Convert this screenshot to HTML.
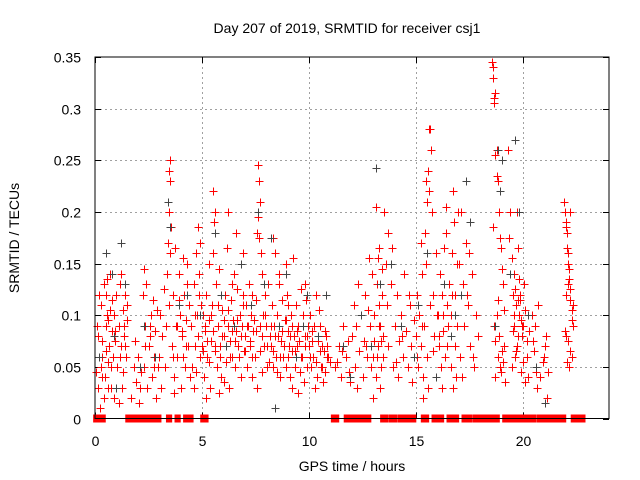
<!DOCTYPE html>
<html><head><meta charset="utf-8">
<style>
html,body{margin:0;padding:0;background:#fff;}
svg{display:block;font-family:"Liberation Sans",sans-serif;}
</style></head>
<body>
<svg id="chart" width="640" height="480" viewBox="0 0 640 480">
  <text x="347" y="33" font-size="14" text-anchor="middle">Day 207 of 2019, SRMTID for receiver csj1</text>
  <text x="352" y="471" font-size="14" text-anchor="middle">GPS time / hours</text>
  <text transform="translate(19,238) rotate(-90)" font-size="14" text-anchor="middle">SRMTID / TECUs</text>
  <g id="grid"></g>
  <g id="ticks"></g>
  <g id="marks"></g>
  <rect x="95" y="57" width="514" height="361.5" fill="none" stroke="#000" stroke-width="1"/>
</svg>
<script>
const xTicks=[0,5,10,15,20];
const yTicks=[0,0.05,0.1,0.15,0.2,0.25,0.3,0.35];
const yTickLabels=["0","0.05","0.1","0.15","0.2","0.25","0.3","0.35"];
const redT=[0.05,0.1,0.15,0.2,0.25,0.3,0.3,0.35,0.4,0.45,0.5,0.5,0.55,0.6,0.6,0.65,0.7,0.75,0.8,0.8,0.85,0.9,0.9,0.95,0.2,0.4,0.6,0.7,0.5,0.35,
1.0,1.05,1.1,1.15,1.2,1.25,1.3,1.35,1.4,1.45,1.5,1.1,1.2,1.3,1.4,1.5,
1.7,1.8,1.9,2.0,2.1,1.85,2.05,2.15,
2.25,2.3,2.35,2.4,2.45,2.5,2.6,2.65,2.7,2.75,2.8,2.85,2.9,2.95,2.3,2.55,
3.0,3.05,3.1,3.15,3.2,3.25,3.3,3.35,3.4,3.45,3.5,3.45,3.5,3.55,3.5,3.45,
3.6,3.65,3.7,3.75,3.8,3.85,3.9,3.95,4.0,4.05,4.1,4.15,4.2,4.25,4.3,4.35,4.4,4.45,3.7,3.9,4.1,4.3,
4.5,4.55,4.6,4.65,4.7,4.75,4.8,4.85,4.9,4.95,4.6,4.8,4.9,4.7,
5.0,5.05,5.1,5.15,5.2,5.25,5.3,5.35,5.4,5.45,5.5,5.55,5.6,5.65,5.7,5.75,5.8,5.85,5.9,5.95,6.0,6.05,6.1,6.15,6.2,6.25,6.3,6.35,6.4,6.45,6.5,6.55,6.6,6.65,6.7,6.75,6.8,6.85,6.9,6.95,5.5,5.6,5.3,6.2,6.6,6.9,5.8,6.4,6.0,5.2,
7.0,7.05,7.1,7.15,7.2,7.25,7.3,7.35,7.4,7.45,7.5,7.55,7.6,7.65,7.7,7.75,7.8,7.85,7.9,7.95,8.0,8.05,8.1,8.15,7.6,7.65,7.7,7.55,7.8,7.35,
8.2,8.25,8.3,8.35,8.4,8.45,8.5,8.55,8.6,8.65,8.7,8.75,8.8,8.85,8.9,8.95,9.0,9.05,9.1,9.15,9.2,9.25,9.3,9.35,9.4,9.45,9.5,9.55,9.6,9.65,9.7,9.75,9.8,9.85,9.9,9.95,8.3,8.6,8.9,9.2,9.5,9.8,8.5,9.0,
10.0,10.05,10.1,10.15,10.2,10.3,10.35,10.4,10.5,10.55,10.6,10.7,10.75,10.8,10.9,10.95,10.25,10.45,10.65,10.85,
11.2,11.4,11.5,11.6,11.7,11.8,11.9,11.3,11.55,11.85,
12.0,12.1,12.15,12.2,12.3,12.35,12.4,12.5,12.55,12.6,12.7,12.8,12.85,12.9,12.95,12.25,12.65,12.75,
13.0,13.05,13.1,13.15,13.2,13.25,13.3,13.35,13.4,13.45,13.1,13.2,13.3,13.0,13.15,13.4,13.25,13.35,
13.5,13.6,13.65,13.7,13.8,13.85,13.9,14.0,14.1,14.15,14.2,14.3,14.4,14.45,14.5,14.6,14.7,14.75,14.8,14.9,13.7,14.05,14.35,14.65,
15.0,15.05,15.1,15.15,15.2,15.25,15.3,15.35,15.4,15.45,15.5,15.55,15.6,15.65,15.7,15.75,15.8,15.85,15.9,15.95,15.5,15.55,15.6,15.45,15.65,15.3,15.2,15.8,
16.0,16.05,16.1,16.15,16.2,16.25,16.3,16.35,16.4,16.45,16.5,16.55,16.6,16.65,16.7,16.75,16.8,16.85,16.9,16.95,16.2,16.4,16.6,16.8,16.7,16.9,
17.0,17.05,17.1,17.2,17.25,17.3,17.4,17.5,17.6,17.7,17.8,17.9,17.15,17.35,17.45,17.65,
18.55,18.6,18.6,18.65,18.65,18.7,18.7,18.75,18.75,18.8,18.85,18.9,18.95,19.0,19.05,18.6,18.7,18.8,18.9,19.0,19.1,18.65,18.75,18.85,18.95,19.1,19.15,18.7,18.8,19.05,
19.3,19.4,19.45,19.5,19.55,19.6,19.65,19.7,19.75,19.8,19.85,19.9,19.95,20.0,20.05,20.1,20.15,20.2,19.5,19.6,19.7,19.8,19.9,20.0,19.35,19.45,19.55,19.65,19.75,19.85,20.1,20.25,
20.4,20.5,20.55,20.6,20.7,20.8,20.9,21.0,21.05,21.1,20.45,20.65,20.95,21.15,
21.9,21.95,22.0,22.0,22.05,22.05,22.1,22.1,22.15,22.15,22.2,22.2,22.25,22.25,22.3,22.0,22.1,22.2,22.05,22.15,22.25,21.95,22.3,22.1,22.2,22.0,
5.02,5.12,5.22,5.32,5.42,5.52,5.62,5.72,5.82,5.92,6.02,6.12,6.22,6.32,6.42,6.52,6.62,6.72,6.82,6.92,7.02,7.12,7.22,7.32,7.42,7.52,7.72,7.82,7.92,8.02,8.12,8.22,8.32,8.42,8.52,8.62,8.72,8.82,8.92,9.02,9.12,9.22,9.32,9.42,9.52,9.62,9.72,9.82,9.92,10.02,10.12,10.22,10.32,10.42,10.52,10.62,10.72,10.82,
0.15,0.35,0.55,0.75,0.95,1.15,1.35,2.35,2.55,2.75,3.65,3.85,4.05,4.25,4.65,4.85,13.05,13.25,13.45,15.05,15.25,16.05,16.25,16.45,16.65,19.55,19.75,19.95,20.15];
const redV=[0.045,0.09,0.03,0.06,0.01,0.11,0.05,0.075,0.13,0.04,0.065,0.12,0.135,0.03,0.095,0.07,0.14,0.05,0.085,0.115,0.06,0.1,0.02,0.075,0.12,0.02,0.055,0.105,0.09,0.04,
0.12,0.05,0.09,0.13,0.07,0.03,0.105,0.08,0.12,0.06,0.095,0.015,0.14,0.045,0.07,0.11,
0.02,0.05,0.035,0.06,0.03,0.075,0.015,0.045,
0.12,0.05,0.09,0.13,0.03,0.07,0.1,0.04,0.115,0.06,0.085,0.02,0.105,0.05,0.145,0.08,
0.06,0.1,0.03,0.08,0.125,0.05,0.09,0.14,0.17,0.2,0.25,0.24,0.23,0.185,0.16,0.11,
0.07,0.12,0.04,0.165,0.09,0.06,0.14,0.1,0.03,0.08,0.155,0.12,0.05,0.095,0.13,0.07,0.11,0.04,0.025,0.115,0.06,0.15,
0.09,0.05,0.13,0.07,0.16,0.1,0.185,0.14,0.06,0.11,0.03,0.08,0.17,0.045,
0.07,0.1,0.04,0.085,0.12,0.06,0.095,0.03,0.075,0.11,0.22,0.19,0.065,0.13,0.05,0.09,0.145,0.07,0.04,0.105,0.08,0.12,0.055,0.165,0.09,0.03,0.075,0.115,0.06,0.095,0.14,0.05,0.085,0.125,0.07,0.1,0.04,0.09,0.16,0.065,0.16,0.2,0.15,0.2,0.18,0.12,0.025,0.13,0.035,0.02,
0.08,0.11,0.05,0.09,0.13,0.07,0.1,0.04,0.085,0.06,0.115,0.18,0.245,0.23,0.21,0.16,0.14,0.1,0.07,0.12,0.09,0.05,0.13,0.08,0.195,0.175,0.09,0.03,0.045,0.12,
0.07,0.11,0.05,0.09,0.16,0.06,0.1,0.08,0.13,0.04,0.075,0.115,0.06,0.095,0.05,0.12,0.085,0.07,0.04,0.1,0.065,0.155,0.08,0.05,0.11,0.07,0.09,0.045,0.125,0.06,0.1,0.035,0.08,0.115,0.05,0.09,0.175,0.14,0.15,0.03,0.025,0.13,0.045,0.11,
0.07,0.1,0.05,0.085,0.06,0.12,0.04,0.075,0.09,0.05,0.07,0.065,0.045,0.08,0.06,0.055,0.03,0.105,0.035,0.07,
0.05,0.07,0.04,0.09,0.06,0.075,0.035,0.055,0.065,0.045,
0.08,0.11,0.05,0.09,0.13,0.065,0.1,0.04,0.075,0.12,0.06,0.155,0.09,0.05,0.14,0.03,0.07,0.105,
0.06,0.1,0.04,0.13,0.07,0.165,0.09,0.05,0.12,0.08,0.205,0.155,0.03,0.02,0.06,0.145,0.11,0.075,
0.2,0.15,0.11,0.07,0.13,0.165,0.05,0.09,0.12,0.04,0.075,0.1,0.06,0.14,0.085,0.05,0.11,0.07,0.035,0.095,0.18,0.055,0.08,0.12,
0.08,0.12,0.05,0.1,0.07,0.14,0.04,0.09,0.18,0.23,0.21,0.24,0.28,0.28,0.26,0.2,0.12,0.08,0.16,0.1,0.06,0.03,0.22,0.15,0.11,0.02,0.17,0.065,
0.1,0.07,0.14,0.05,0.12,0.085,0.165,0.06,0.205,0.11,0.09,0.13,0.05,0.16,0.22,0.19,0.07,0.04,0.15,0.2,0.03,0.18,0.1,0.12,0.03,0.09,
0.15,0.06,0.2,0.13,0.09,0.17,0.11,0.07,0.14,0.05,0.1,0.08,0.04,0.12,0.16,0.06,
0.345,0.34,0.33,0.31,0.305,0.315,0.255,0.26,0.235,0.23,0.2,0.175,0.165,0.145,0.13,0.185,0.075,0.06,0.05,0.065,0.07,0.09,0.1,0.08,0.045,0.105,0.035,0.04,0.115,0.055,
0.26,0.2,0.155,0.12,0.09,0.06,0.11,0.2,0.165,0.135,0.115,0.095,0.08,0.055,0.13,0.105,0.075,0.04,0.085,0.125,0.07,0.1,0.045,0.09,0.175,0.05,0.14,0.065,0.115,0.12,0.035,0.085,
0.1,0.065,0.09,0.045,0.11,0.04,0.055,0.07,0.08,0.02,0.075,0.03,0.06,0.045,
0.21,0.2,0.19,0.185,0.18,0.165,0.15,0.16,0.145,0.135,0.125,0.115,0.105,0.095,0.09,0.08,0.075,0.065,0.055,0.05,0.06,0.085,0.11,0.13,0.2,0.12,
0.065,0.09,0.075,0.055,0.1,0.085,0.07,0.11,0.06,0.08,0.095,0.07,0.105,0.06,0.085,0.075,0.095,0.06,0.08,0.11,0.065,0.09,0.075,0.06,0.095,0.085,0.065,0.08,0.1,0.07,0.055,0.09,0.065,0.08,0.1,0.06,0.085,0.07,0.095,0.06,0.08,0.09,0.065,0.085,0.075,0.06,0.09,0.07,0.08,0.06,0.075,0.09,0.055,0.08,0.065,0.05,0.085,0.06,
0.08,0.06,0.1,0.03,0.085,0.06,0.09,0.07,0.09,0.05,0.06,0.09,0.085,0.07,0.1,0.12,0.075,0.09,0.06,0.06,0.09,0.08,0.1,0.07,0.12,0.1,0.08,0.09,0.06];
const zeroT=[0.1,0.2,0.4,1.6,1.7,1.8,1.9,2.0,2.1,2.2,2.3,2.4,2.6,2.7,2.8,2.9,3.0,3.5,3.9,4.3,4.5,5.1,5.2,11.2,11.3,11.8,11.9,12.0,12.1,12.3,12.5,12.6,12.7,12.8,13.5,13.6,13.9,14.0,14.3,14.4,14.5,14.6,14.7,14.8,14.9,15.4,15.5,15.9,16.0,16.1,16.2,16.6,16.7,16.8,16.9,17.3,17.4,17.5,17.8,17.9,18.0,18.1,18.2,18.3,18.4,18.5,18.6,18.7,18.8,19.2,19.3,19.4,19.5,19.6,19.8,19.9,20.1,20.2,20.3,20.4,20.5,20.8,20.9,21.0,21.1,21.2,21.3,21.4,21.5,21.6,21.7,21.8,21.9,22.4,22.5,22.6,22.7,22.8];
const blackT=[0.5,0.8,1.2,1.4,2.3,2.8,3.4,3.5,4.3,4.9,5.6,6.1,6.8,7.3,7.9,8.2,8.6,8.9,9.4,9.9,10.4,11.6,12.4,13.1,13.3,13.8,14.3,15.1,15.5,15.9,16.3,16.6,17.3,17.5,17.1,18.8,18.9,19.0,19.6,19.8,20.2,21.0,0.2,1.0,5.9,7.6,9.7,12.9,14.9,16.8,18.7,19.4,20.6,3.9,11.9,6.5,8.4,10.8,2.1,0.9];
const blackV=[0.16,0.14,0.17,0.13,0.09,0.06,0.21,0.185,0.12,0.1,0.18,0.07,0.15,0.11,0.13,0.175,0.09,0.14,0.06,0.12,0.08,0.07,0.1,0.243,0.13,0.15,0.09,0.11,0.16,0.04,0.13,0.08,0.23,0.19,0.12,0.26,0.22,0.25,0.27,0.2,0.1,0.015,0.06,0.03,0.12,0.2,0.09,0.07,0.06,0.1,0.09,0.14,0.05,0.11,0.04,0.09,0.01,0.12,0.05,0.08];

const X0=95,X1=609,Y0=418.5,Y1=57,XMAX=24,YMAX=0.35;
function xs(t){return X0+(t/XMAX)*(X1-X0);}
function ys(v){return Y0-(v/YMAX)*(Y0-Y1);}
const NS="http://www.w3.org/2000/svg";
const grid=document.getElementById('grid'),ticks=document.getElementById('ticks'),marks=document.getElementById('marks');
function line(p,x1,y1,x2,y2,st,dash){const l=document.createElementNS(NS,'line');l.setAttribute('x1',x1);l.setAttribute('y1',y1);l.setAttribute('x2',x2);l.setAttribute('y2',y2);l.setAttribute('stroke',st);if(dash)l.setAttribute('stroke-dasharray',dash);p.appendChild(l);return l;}
function txt(p,x,y,s,anchor){const t=document.createElementNS(NS,'text');t.setAttribute('x',x);t.setAttribute('y',y);t.setAttribute('font-size','14');t.setAttribute('text-anchor',anchor);t.textContent=s;p.appendChild(t);return t;}
xTicks.forEach(function(v){
  const x=Math.round(xs(v))+0.5;
  if(v>0){const g=line(grid,x,Y1,x,Y0,'#a0a0a0','2,3');
  
  }
  line(ticks,x,Y0,x,Y0-6,'#000');line(ticks,x,Y1,x,Y1+6,'#000');
  const t=txt(ticks,x,446,String(v),'middle');
  
  
});
yTicks.forEach(function(v,i){
  const y=Math.round(ys(v))+0.5;
  if(v>0&&v<YMAX){const g=line(grid,X0,y,X1,y,'#a0a0a0','2,3');
  
  }
  line(ticks,X0,y,X0+6,y,'#000');line(ticks,X1,y,X1-6,y,'#000');
  const t=txt(ticks,81,y+5,yTickLabels[i],'end');
  
  
});
function plus(t,v,col){
  const x=Math.round(xs(t))+0.5,y=Math.round(ys(Math.min(v,YMAX)))+0.5;
  const p=document.createElementNS(NS,'path');
  p.setAttribute('d','M'+(x-4)+' '+y+'H'+(x+4)+'M'+x+' '+(y-4)+'V'+(y+4));
  p.setAttribute('stroke',col);p.setAttribute('fill','none');
  
  
  marks.appendChild(p);
}
redT.forEach(function(t,i){plus(t,redV[i],'#ff0000');});
zeroT.forEach(function(t){
  const x=xs(t),r=document.createElementNS(NS,'rect');
  r.setAttribute('x',x-4);r.setAttribute('y',Y0-4);r.setAttribute('width',6.2);r.setAttribute('height',8);r.setAttribute('fill','#ff0000');
  
  
  marks.appendChild(r);
});
blackT.forEach(function(t,i){plus(t,blackV[i],'#444');});
</script>
</body></html>
